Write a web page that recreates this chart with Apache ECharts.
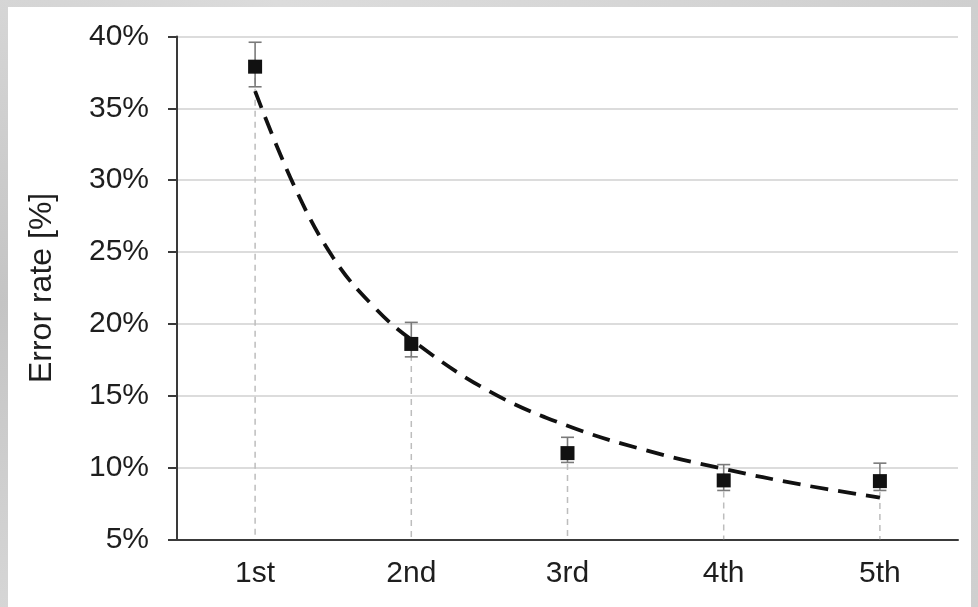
<!DOCTYPE html>
<html>
<head>
<meta charset="utf-8">
<script src="https://cdn.jsdelivr.net/npm/echarts@6/dist/echarts.min.js"></script>
<style>
  html, body { margin: 0; padding: 0; width: 978px; height: 607px; overflow: hidden;
    background: radial-gradient(circle at 0% 50%, #c4c4c4 0%, #dcdcdc 40%, #cfcfcf 100%); }
  #paper { position: absolute; left: 8px; top: 7px; right: 7px; bottom: 0; background: #ffffff; }
  #chart { position: absolute; left: 0; top: 0; width: 978px; height: 607px; }
</style>
</head>
<body>
<div id="paper"></div>
<div id="chart"></div>
<script>
// ---- data ----
var categories = ['1st', '2nd', '3rd', '4th', '5th'];
var meanValues = [37.9, 18.6, 11.0, 9.1, 9.05];
var errHigh    = [39.6, 20.1, 12.1, 10.2, 10.3];
var errLow     = [36.5, 17.7, 10.35, 8.4, 8.4];
var trendX     = [1, 1.25, 1.5, 1.75, 2, 2.5, 3, 3.5, 4, 4.5, 5];
var trendY     = [36.2, 29.6, 24.6, 21.3, 18.9, 15.3, 12.9, 11.2, 9.9, 8.8, 7.9];
var yTicks     = { min: 5, max: 40, interval: 5 };

var chart = echarts.init(document.getElementById('chart'), null, { renderer: 'canvas' });

var errData = categories.map(function (c, i) { return [i, errLow[i], errHigh[i], meanValues[i]]; });
var trendData = trendX.map(function (x, i) { return [x, trendY[i]]; });

var FONT = 'Liberation Sans, Arial, Helvetica, sans-serif';

var option = {
  backgroundColor: 'transparent',
  animation: false,
  grid: { left: 177, right: 20, top: 36.5, bottom: 67.7, containLabel: false },
  xAxis: [
    {
      type: 'category',
      data: categories,
      boundaryGap: true,
      axisLine: { lineStyle: { color: '#3a3a3a', width: 2 } },
      axisTick: { alignWithLabel: true, length: 7, lineStyle: { color: '#3a3a3a', width: 2 } },
      axisLabel: { color: '#1e1e1e', fontSize: 30, fontFamily: FONT, margin: 19 },
      splitLine: { show: false }
    },
    {
      type: 'value',
      min: 0.5, max: 5.5,
      show: false,
      position: 'bottom'
    }
  ],
  yAxis: {
    type: 'value',
    min: yTicks.min, max: yTicks.max, interval: yTicks.interval,
    name: 'Error rate [%]',
    nameLocation: 'middle',
    nameGap: 119,
    nameTextStyle: { color: '#1e1e1e', fontSize: 32, fontFamily: FONT },
    axisLine: { show: true, lineStyle: { color: '#3a3a3a', width: 2 } },
    axisTick: { show: true, length: 9, lineStyle: { color: '#3a3a3a', width: 2 } },
    axisLabel: { color: '#1e1e1e', fontSize: 30, fontFamily: FONT, margin: 28, formatter: '{value}%' },
    splitLine: { show: true, lineStyle: { color: '#dcdcdc', width: 2 } }
  },
  series: [
    {
      type: 'custom',
      xAxisIndex: 0,
      data: errData,
      z: 3,
      renderItem: function (params, api) {
        var x = api.value(0);
        var lo = api.coord([x, api.value(1)]);
        var hi = api.coord([x, api.value(2)]);
        var mid = api.coord([x, api.value(3)]);
        var base = api.coord([x, yTicks.min]);
        var cap = 6.5;
        return {
          type: 'group',
          children: [
            { type: 'line', shape: { x1: mid[0], y1: mid[1], x2: base[0], y2: base[1] },
              style: { stroke: '#bdbdbd', lineWidth: 1.5, lineDash: [6, 5] } },
            { type: 'line', shape: { x1: hi[0], y1: hi[1], x2: lo[0], y2: lo[1] },
              style: { stroke: '#7a7a7a', lineWidth: 1.6 } },
            { type: 'line', shape: { x1: hi[0] - cap, y1: hi[1], x2: hi[0] + cap, y2: hi[1] },
              style: { stroke: '#7a7a7a', lineWidth: 1.6 } },
            { type: 'line', shape: { x1: lo[0] - cap, y1: lo[1], x2: lo[0] + cap, y2: lo[1] },
              style: { stroke: '#7a7a7a', lineWidth: 1.6 } }
          ]
        };
      }
    },
    {
      type: 'line',
      xAxisIndex: 1,
      data: trendData,
      smooth: 0.4,
      showSymbol: false,
      symbol: 'none',
      z: 4,
      lineStyle: { color: '#111', width: 3.8, type: [18, 10] }
    },
    {
      type: 'scatter',
      xAxisIndex: 0,
      data: meanValues,
      symbol: 'rect',
      symbolSize: 14,
      z: 5,
      itemStyle: { color: '#111', opacity: 1 }
    }
  ]
};
chart.setOption(option);
</script>
</body>
</html>
